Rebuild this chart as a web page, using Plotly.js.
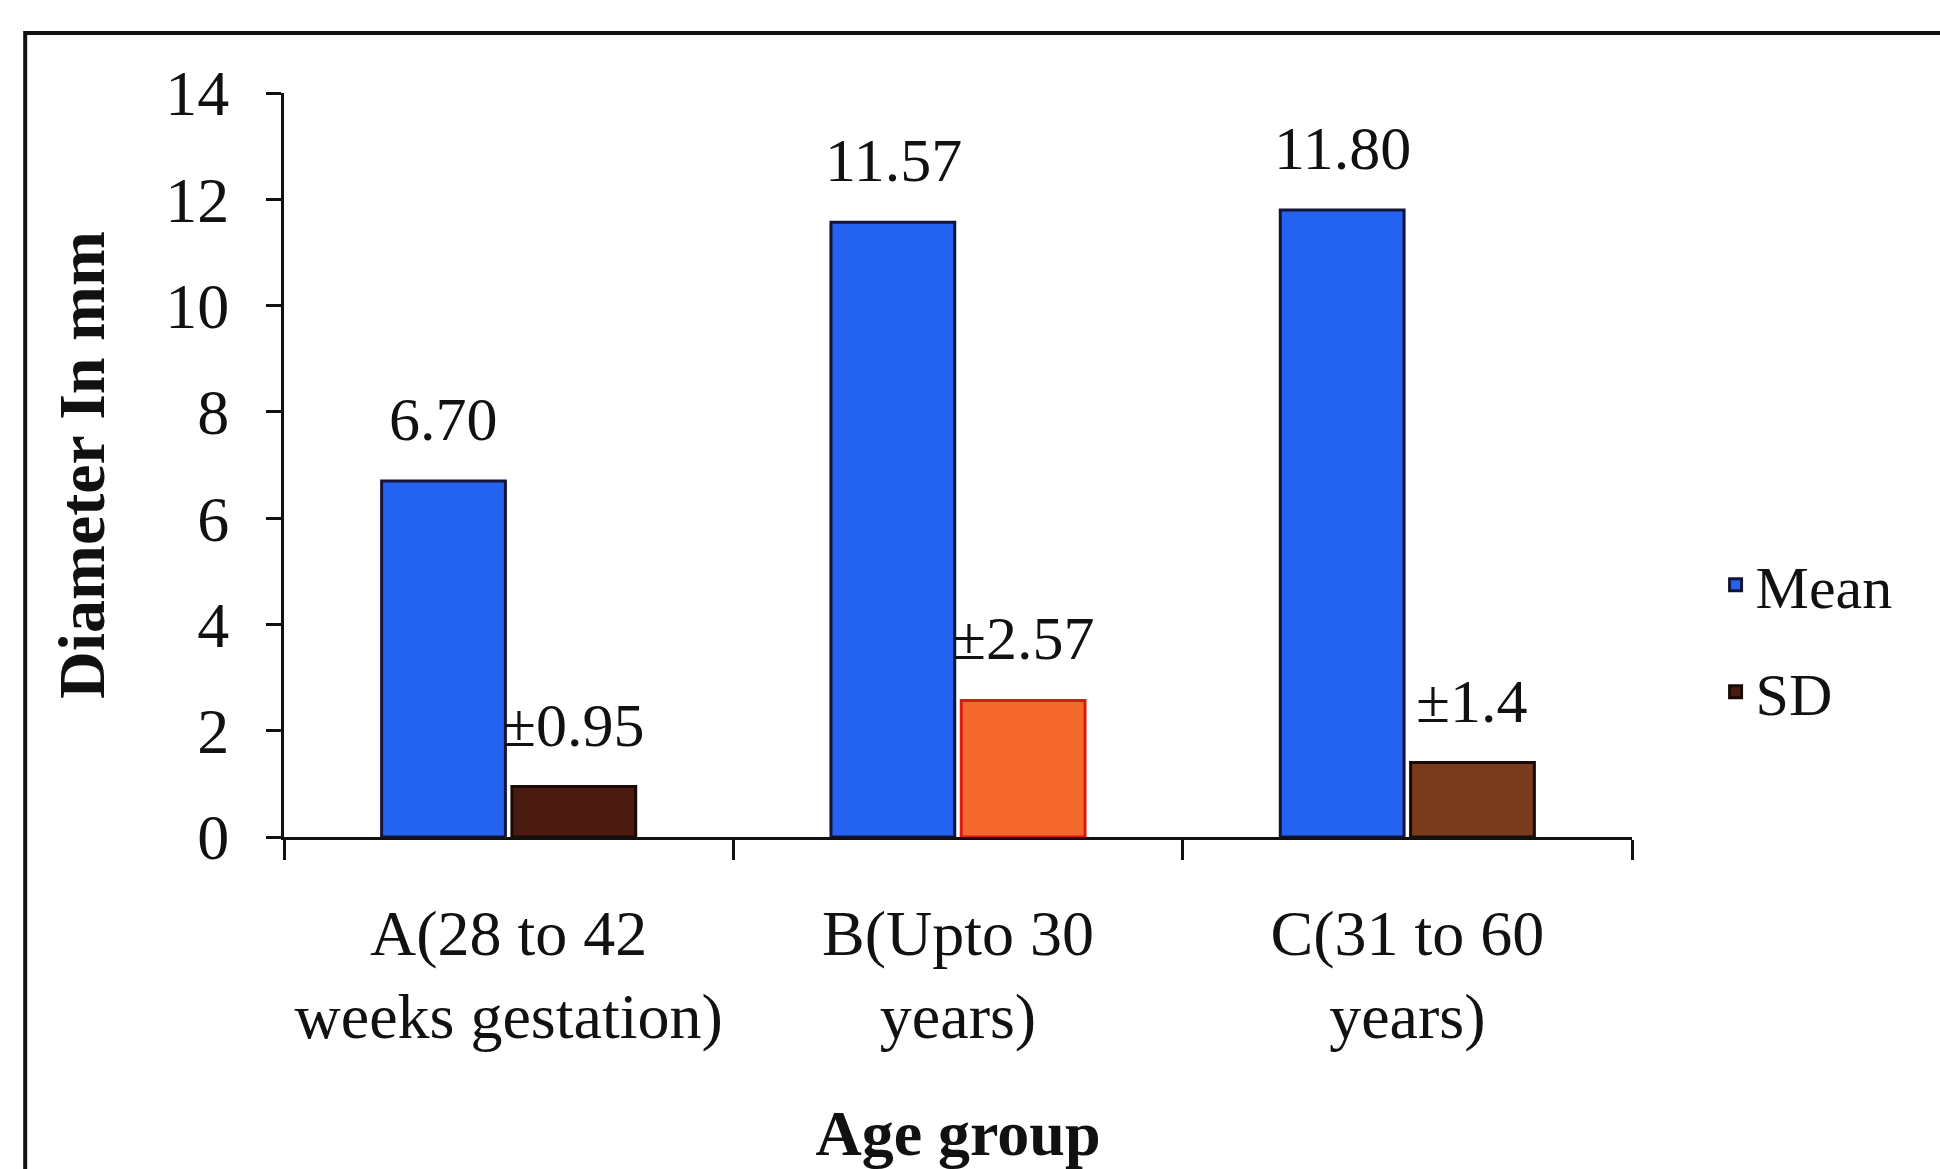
<!DOCTYPE html>
<html>
<head>
<meta charset="utf-8">
<script src="https://cdn.plot.ly/plotly-3.0.1.min.js"></script>
<style>html,body{margin:0;padding:0;background:#fff;}#chart{width:1940px;height:1169px;}</style>
</head>
<body>
<div id="chart"></div>
<script>
const categories = ["A(28 to 42<br>weeks gestation)", "B(Upto 30<br>years)", "C(31 to 60<br>years)"];
const meanValues = [6.70, 11.57, 11.80];
const sdValues = [0.95, 2.57, 1.4];
const meanLabels = ["6.70", "11.57", "11.80"];
const sdLabels = ["±0.95", "±2.57", "±1.4"];
const yTicks = [0, 2, 4, 6, 8, 10, 12, 14];

const serif = "Liberation Serif, Times New Roman, serif";
const sdFill = ["#4a1a10", "#f5692e", "#7a3a1e"];
const sdLine = ["#1a0a06", "#d81a10", "#1a0a06"];

const traces = [
  {
    type: "bar", name: "Mean", x: categories, y: meanValues, legendgroup: "m",
    marker: {color: "#2462f0", line: {color: "#141438", width: 3}},
    hoverinfo: "skip"
  },
  {
    type: "bar", name: "SD", x: categories, y: sdValues, legendgroup: "s",
    marker: {color: sdFill, line: {color: sdLine, width: 3}},
    hoverinfo: "skip"
  }
];

const annotations = [];
categories.forEach((c, i) => {
  annotations.push({x: c, y: meanValues[i], xref: "x", yref: "y", text: meanLabels[i],
    showarrow: false, yanchor: "bottom", xshift: -65, yshift: 26,
    font: {family: serif, size: 62, color: "#111"}});
  annotations.push({x: c, y: sdValues[i], xref: "x", yref: "y", text: sdLabels[i],
    showarrow: false, yanchor: "bottom", xshift: 65, yshift: 26,
    font: {family: serif, size: 62, color: "#111"}});
});

const layout = {
  width: 1940, height: 1169,
  margin: {l: 284, r: 308, t: 93, b: 332},
  paper_bgcolor: "#ffffff", plot_bgcolor: "#ffffff",
  barmode: "group", bargap: 0.42, bargroupgap: 0.05,
  showlegend: true,
  legend: {x: 1.062, xanchor: "left", y: 0.267, yanchor: "middle",
    font: {family: serif, size: 60, color: "#111"},
    traceorder: "grouped", tracegroupgap: 26, bgcolor: "rgba(0,0,0,0)", itemwidth: 30},
  xaxis: {
    type: "category", showline: true, linecolor: "#111", linewidth: 3,
    ticks: "outside", tickson: "boundaries", ticklen: 20, tickwidth: 3, tickcolor: "#111",
    showgrid: false, zeroline: false, automargin: false,
    tickfont: {family: serif, size: 64, color: "#111"}, ticklabelstandoff: 38,
    title: {text: "<b>Age group</b>", standoff: 62, font: {family: serif, size: 64, color: "#111"}}
  },
  yaxis: {
    range: [0, 14], tickvals: yTicks, ticktext: yTicks.map(String),
    showline: true, linecolor: "#111", linewidth: 3,
    ticks: "outside", ticklen: 15, tickwidth: 3, tickcolor: "#111",
    showgrid: false, zeroline: false, automargin: false,
    tickfont: {family: serif, size: 64, color: "#111"}, ticklabelstandoff: 24,
    title: {text: "<b>Diameter In mm</b>", standoff: 40, font: {family: serif, size: 66, color: "#111"}}
  },
  annotations: annotations,
  shapes: [{type: "rect", xref: "paper", yref: "paper", x0: -0.192, x1: 2, y0: -2, y1: 1.0806,
    line: {color: "#111", width: 4}, fillcolor: "rgba(0,0,0,0)", layer: "below"}]
};

Plotly.newPlot("chart", traces, layout, {displayModeBar: false, staticPlot: true});
</script>
</body>
</html>
